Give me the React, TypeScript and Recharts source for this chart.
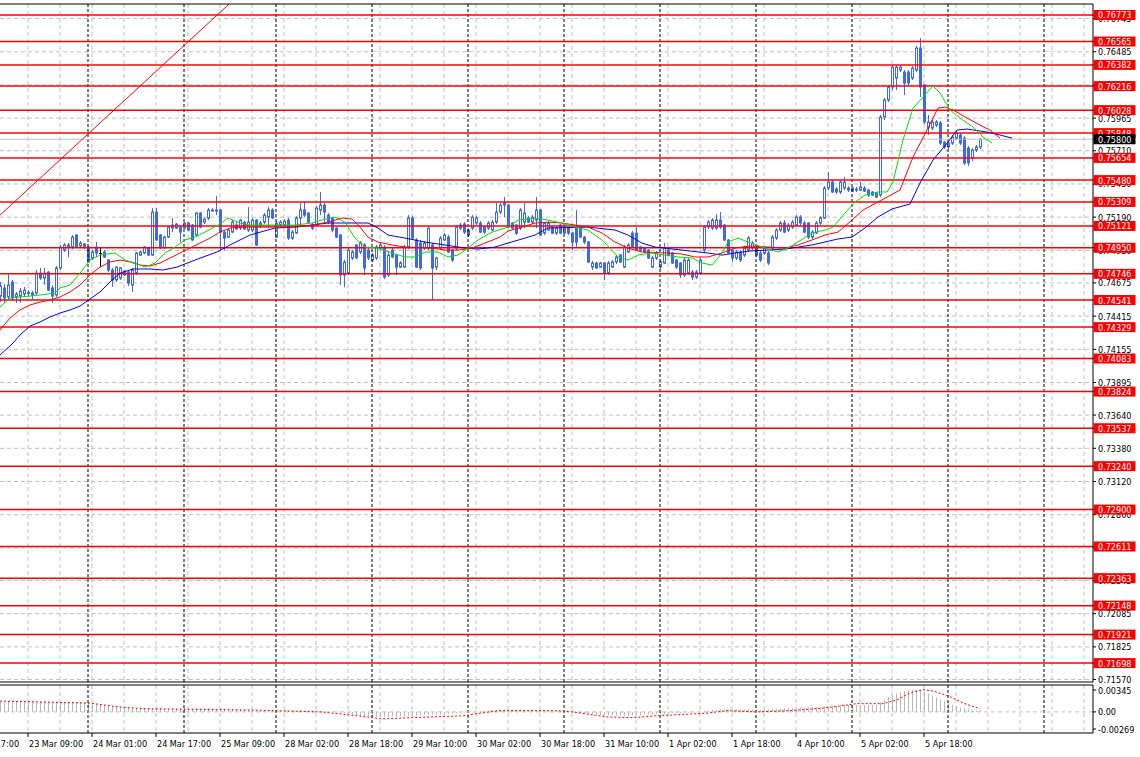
import React from 'react';
import { Bar, CartesianGrid, ComposedChart, Line, ReferenceLine, XAxis, YAxis } from 'recharts';

// hourly bars: [open, high, low, close]
const candles: [number, number, number, number][] = [
  [0.74572, 0.74682, 0.74525, 0.7465], [0.74635, 0.74666, 0.74518, 0.74557], [0.74565, 0.74752, 0.74541, 0.74658], [0.74682, 0.74698, 0.74533, 0.74557],
  [0.74565, 0.74604, 0.74518, 0.74588], [0.74572, 0.74635, 0.74518, 0.74612], [0.74588, 0.74643, 0.74565, 0.74619], [0.74596, 0.74619, 0.74565, 0.746],
  [0.7458, 0.74612, 0.74549, 0.74596], [0.74596, 0.74776, 0.7458, 0.74752], [0.74752, 0.74792, 0.74698, 0.74713], [0.74713, 0.74792, 0.74658, 0.74752],
  [0.7476, 0.74768, 0.74612, 0.74619], [0.74635, 0.74658, 0.74518, 0.74572], [0.7458, 0.74807, 0.74565, 0.74792], [0.74792, 0.74972, 0.74776, 0.74956],
  [0.74932, 0.74987, 0.74917, 0.74972], [0.74956, 0.74987, 0.74878, 0.74972], [0.74956, 0.7505, 0.7494, 0.75034], [0.7505, 0.75058, 0.74948, 0.74956],
  [0.74964, 0.75003, 0.74948, 0.74987], [0.74979, 0.74987, 0.7494, 0.74956], [0.74956, 0.74964, 0.74831, 0.74839], [0.7487, 0.74932, 0.74854, 0.74917],
  [0.74956, 0.74995, 0.74878, 0.74909], [0.74909, 0.74956, 0.74799, 0.74909], [0.74917, 0.74932, 0.7487, 0.74878], [0.74854, 0.74862, 0.7476, 0.74776],
  [0.74776, 0.74792, 0.74643, 0.74698], [0.74698, 0.74807, 0.74682, 0.74799], [0.74713, 0.74799, 0.74698, 0.74792], [0.74768, 0.74776, 0.74729, 0.74737],
  [0.7476, 0.74768, 0.7465, 0.74674], [0.74658, 0.74792, 0.74604, 0.74776], [0.74752, 0.74917, 0.74737, 0.74909], [0.74893, 0.74925, 0.74886, 0.74917],
  [0.74909, 0.74964, 0.74901, 0.74956], [0.74948, 0.74956, 0.74886, 0.74893], [0.74893, 0.75261, 0.74886, 0.7523], [0.7523, 0.75261, 0.75003, 0.75011],
  [0.7505, 0.75058, 0.7494, 0.74948], [0.74948, 0.75042, 0.7494, 0.75034], [0.75034, 0.7512, 0.75026, 0.75112], [0.75104, 0.75183, 0.75073, 0.75128],
  [0.75104, 0.75144, 0.75097, 0.75136], [0.75112, 0.7512, 0.74995, 0.75073], [0.75104, 0.75151, 0.75097, 0.75144], [0.75144, 0.75151, 0.75081, 0.75089],
  [0.75128, 0.75136, 0.75005, 0.75011], [0.7505, 0.7523, 0.75042, 0.75222], [0.75222, 0.7523, 0.75104, 0.75112], [0.75151, 0.75183, 0.75136, 0.75175],
  [0.75183, 0.75261, 0.75167, 0.75246], [0.75246, 0.75261, 0.7523, 0.75238], [0.75238, 0.75355, 0.75206, 0.75246], [0.75246, 0.75253, 0.74932, 0.75073],
  [0.75073, 0.75089, 0.74932, 0.75026], [0.75034, 0.75097, 0.75026, 0.75089], [0.75073, 0.75167, 0.75065, 0.75151], [0.75128, 0.75151, 0.75089, 0.75097],
  [0.75104, 0.75175, 0.75089, 0.75167], [0.75151, 0.75159, 0.75089, 0.75097], [0.75089, 0.75269, 0.75073, 0.75151], [0.75089, 0.75183, 0.75073, 0.75167],
  [0.75167, 0.75175, 0.74964, 0.74972], [0.75128, 0.75159, 0.75104, 0.75144], [0.75151, 0.75222, 0.75136, 0.75206], [0.7519, 0.75269, 0.75104, 0.75246],
  [0.75246, 0.75261, 0.75175, 0.75183], [0.75034, 0.75159, 0.75026, 0.75144], [0.75128, 0.75167, 0.75112, 0.75151], [0.75128, 0.75175, 0.7512, 0.75159],
  [0.75167, 0.75183, 0.75011, 0.75026], [0.75026, 0.75089, 0.75011, 0.75073], [0.75065, 0.75198, 0.75058, 0.75183], [0.75183, 0.753, 0.75112, 0.75246],
  [0.75246, 0.75308, 0.7519, 0.75206], [0.75222, 0.7523, 0.75144, 0.75151], [0.75128, 0.75144, 0.75089, 0.75104], [0.75128, 0.75277, 0.75112, 0.75261],
  [0.75246, 0.75387, 0.75206, 0.75285], [0.75285, 0.753, 0.75151, 0.7523], [0.75206, 0.75222, 0.75136, 0.75151], [0.75183, 0.7519, 0.75073, 0.75089],
  [0.75104, 0.75112, 0.75026, 0.75034], [0.7505, 0.75058, 0.74658, 0.74737], [0.74737, 0.74854, 0.74643, 0.74839], [0.74752, 0.74948, 0.74737, 0.74932],
  [0.7487, 0.74932, 0.74854, 0.74917], [0.74972, 0.74979, 0.74862, 0.7487], [0.74917, 0.75003, 0.74901, 0.74987], [0.74972, 0.74987, 0.74737, 0.74792],
  [0.74932, 0.74948, 0.74854, 0.7487], [0.74854, 0.74909, 0.74839, 0.74893], [0.7487, 0.74972, 0.74854, 0.74956], [0.74948, 0.74987, 0.74932, 0.74972],
  [0.74956, 0.74972, 0.74705, 0.74721], [0.74737, 0.74917, 0.74721, 0.74893], [0.74932, 0.74948, 0.7487, 0.74878], [0.74893, 0.74901, 0.74737, 0.74799],
  [0.74799, 0.74846, 0.74792, 0.74831], [0.74799, 0.74972, 0.74792, 0.74956], [0.74956, 0.75206, 0.7494, 0.75183], [0.75183, 0.75198, 0.75018, 0.75026],
  [0.75011, 0.75026, 0.74792, 0.74799], [0.74987, 0.75011, 0.74776, 0.74792], [0.74948, 0.75003, 0.74932, 0.74987], [0.74948, 0.7512, 0.74932, 0.75104],
  [0.74972, 0.74987, 0.74541, 0.74792], [0.74799, 0.74878, 0.74776, 0.7487], [0.74948, 0.75042, 0.74932, 0.75026], [0.75011, 0.75065, 0.75003, 0.7505],
  [0.75034, 0.7505, 0.74909, 0.74917], [0.74932, 0.7494, 0.74839, 0.74854], [0.74948, 0.75128, 0.74932, 0.75112], [0.75104, 0.75144, 0.75089, 0.75128],
  [0.75136, 0.75151, 0.75058, 0.75073], [0.75089, 0.75104, 0.75034, 0.7505], [0.75104, 0.75206, 0.75089, 0.7519], [0.75144, 0.75198, 0.75128, 0.75183],
  [0.75144, 0.75159, 0.75065, 0.75073], [0.75112, 0.7512, 0.75058, 0.75073], [0.75104, 0.75159, 0.75089, 0.75144], [0.75089, 0.75167, 0.75081, 0.75151],
  [0.75151, 0.753, 0.75136, 0.7523], [0.7523, 0.753, 0.75214, 0.75285], [0.753, 0.75347, 0.7519, 0.75285], [0.75285, 0.75292, 0.75104, 0.75112],
  [0.75144, 0.75151, 0.75097, 0.75104], [0.75128, 0.75136, 0.7505, 0.75065], [0.75104, 0.75261, 0.75089, 0.75246], [0.75151, 0.753, 0.75104, 0.75222],
  [0.75183, 0.75198, 0.75144, 0.75151], [0.75151, 0.75206, 0.75136, 0.7519], [0.75167, 0.75347, 0.75104, 0.75246], [0.75246, 0.75253, 0.75042, 0.7505],
  [0.75065, 0.75151, 0.7505, 0.75144], [0.75089, 0.75159, 0.75081, 0.75144], [0.75112, 0.7512, 0.75058, 0.75065], [0.75065, 0.75112, 0.7505, 0.75104],
  [0.75128, 0.75136, 0.75058, 0.75065], [0.75065, 0.7512, 0.75058, 0.75104], [0.75104, 0.75112, 0.7505, 0.75065], [0.75065, 0.75073, 0.74932, 0.74995],
  [0.75104, 0.75246, 0.74956, 0.74995], [0.75104, 0.75112, 0.75026, 0.75034], [0.75034, 0.75042, 0.74979, 0.74995], [0.74995, 0.75003, 0.74831, 0.74839],
  [0.74799, 0.74846, 0.74776, 0.74831], [0.74831, 0.74839, 0.74784, 0.74792], [0.74799, 0.74839, 0.74792, 0.74831], [0.74831, 0.74839, 0.74698, 0.74752],
  [0.74752, 0.74846, 0.74737, 0.74831], [0.74799, 0.74854, 0.74792, 0.74839], [0.74839, 0.74893, 0.74823, 0.74878], [0.74893, 0.74901, 0.74831, 0.74839],
  [0.74799, 0.74972, 0.74792, 0.74956], [0.74917, 0.74987, 0.74909, 0.74972], [0.75065, 0.75081, 0.74948, 0.74956], [0.75065, 0.75112, 0.74925, 0.74932],
  [0.74956, 0.74964, 0.74917, 0.74932], [0.74948, 0.74956, 0.74909, 0.74917], [0.74932, 0.7494, 0.74862, 0.7487], [0.74799, 0.74886, 0.74792, 0.7487],
  [0.7487, 0.74925, 0.74854, 0.74909], [0.74799, 0.74854, 0.74784, 0.74839], [0.74831, 0.74987, 0.74823, 0.74948], [0.74932, 0.7494, 0.74886, 0.74893],
  [0.74909, 0.74917, 0.74823, 0.74831], [0.74854, 0.74862, 0.74784, 0.74799], [0.74831, 0.74839, 0.74713, 0.74737], [0.74737, 0.7487, 0.74721, 0.74854],
  [0.74752, 0.7487, 0.74737, 0.74854], [0.7476, 0.74776, 0.74698, 0.74721], [0.74721, 0.74776, 0.74705, 0.7476], [0.74752, 0.7487, 0.74737, 0.74854],
  [0.74932, 0.75128, 0.74917, 0.75112], [0.75112, 0.75167, 0.75097, 0.75151], [0.75104, 0.75183, 0.75089, 0.75167], [0.75104, 0.75214, 0.75089, 0.75167],
  [0.75167, 0.7523, 0.75097, 0.75112], [0.75128, 0.75136, 0.75003, 0.75011], [0.75011, 0.75018, 0.74901, 0.74909], [0.74932, 0.7494, 0.74839, 0.7487],
  [0.7487, 0.74932, 0.74854, 0.74917], [0.74917, 0.74932, 0.74839, 0.74854], [0.74893, 0.74964, 0.74878, 0.74948], [0.74932, 0.75042, 0.74917, 0.75026],
  [0.74948, 0.75003, 0.74932, 0.74987], [0.74948, 0.74964, 0.74878, 0.74893], [0.74909, 0.74925, 0.74839, 0.74854], [0.74909, 0.74964, 0.74893, 0.74948],
  [0.74909, 0.74925, 0.74815, 0.74831], [0.74948, 0.7505, 0.74932, 0.75034], [0.75026, 0.75104, 0.75011, 0.75089], [0.75089, 0.75159, 0.75073, 0.75144],
  [0.75144, 0.75167, 0.75065, 0.75073], [0.75089, 0.75144, 0.75073, 0.75128], [0.75112, 0.75167, 0.75097, 0.75151], [0.75128, 0.75206, 0.7512, 0.7519],
  [0.7519, 0.75206, 0.75128, 0.75144], [0.75144, 0.75159, 0.75065, 0.75073], [0.75144, 0.75151, 0.75018, 0.75034], [0.75034, 0.75089, 0.75018, 0.75073],
  [0.75065, 0.75159, 0.75058, 0.75144], [0.75144, 0.75198, 0.75128, 0.75183], [0.75183, 0.75433, 0.75175, 0.75418], [0.75418, 0.75543, 0.75402, 0.75465],
  [0.75465, 0.75481, 0.75379, 0.75387], [0.7541, 0.75426, 0.75371, 0.75387], [0.75387, 0.75481, 0.75371, 0.75465], [0.75418, 0.75504, 0.75402, 0.75465],
  [0.75418, 0.75433, 0.75387, 0.75402], [0.75418, 0.75426, 0.75387, 0.75394], [0.75402, 0.75426, 0.75387, 0.7541], [0.75402, 0.75465, 0.75394, 0.75426],
  [0.75418, 0.75433, 0.75387, 0.75394], [0.75402, 0.7541, 0.75347, 0.75363], [0.75387, 0.75394, 0.75355, 0.75363], [0.75379, 0.75387, 0.7534, 0.75347],
  [0.75363, 0.7599, 0.75347, 0.75974], [0.75974, 0.76123, 0.7595, 0.76107], [0.76107, 0.76224, 0.76091, 0.76209], [0.76209, 0.76381, 0.76185, 0.76365],
  [0.76279, 0.76381, 0.76185, 0.76365], [0.76342, 0.76381, 0.76326, 0.76365], [0.76326, 0.76342, 0.76146, 0.7624], [0.76326, 0.76342, 0.76216, 0.7624],
  [0.76279, 0.76373, 0.76264, 0.76357], [0.76342, 0.7653, 0.76326, 0.76514], [0.76514, 0.76592, 0.7613, 0.76209], [0.76224, 0.76232, 0.75919, 0.75935],
  [0.75888, 0.7599, 0.75833, 0.75935], [0.75888, 0.7595, 0.75872, 0.75935], [0.75911, 0.7595, 0.75896, 0.75935], [0.75927, 0.75943, 0.75755, 0.7577],
  [0.75778, 0.75786, 0.75723, 0.75739], [0.75739, 0.75786, 0.75723, 0.7577], [0.7577, 0.75833, 0.75755, 0.75817], [0.75809, 0.75864, 0.75794, 0.75849],
  [0.75833, 0.75849, 0.75755, 0.7577], [0.75809, 0.75825, 0.75598, 0.75614], [0.75731, 0.75747, 0.7559, 0.75614], [0.75653, 0.75731, 0.75629, 0.75716],
  [0.75716, 0.75755, 0.757, 0.75739], [0.75739, 0.75809, 0.75723, 0.758],
];

// moving averages: [bar index, price]
const greenMa: [number, number][] = [
  [0, 0.74486], [2.5, 0.74557], [10, 0.7458], [13.75, 0.74596], [15, 0.74635], [17.5, 0.74658], [20, 0.74752], [22.5, 0.74854],
  [25, 0.74893], [28.75, 0.74909], [31.25, 0.74854], [33.75, 0.74831], [36.25, 0.74799], [38.75, 0.74831], [41.25, 0.74909], [43.75, 0.74956],
  [46.25, 0.75011], [48.75, 0.75034], [51.25, 0.75073], [55, 0.75136], [57, 0.75183], [60, 0.75144], [62.5, 0.75128], [69.5, 0.75128],
  [73.75, 0.75128], [78, 0.75144], [80.5, 0.75167], [83.75, 0.7519], [86.25, 0.75151], [88.75, 0.75026], [91.25, 0.74956], [94.5, 0.74948],
  [98, 0.74909], [101.25, 0.74878], [103.75, 0.74878], [106.25, 0.74917], [109.5, 0.74917], [112, 0.74878], [114.5, 0.74893], [117, 0.74948],
  [119.5, 0.75011], [123, 0.75073], [127, 0.75112], [129.5, 0.75167], [133.75, 0.75183], [137, 0.75167], [140.5, 0.75144], [143.75, 0.75112],
  [147, 0.75089], [150.5, 0.75011], [153, 0.74932], [154.5, 0.74878], [157, 0.74854], [159.5, 0.74893], [163, 0.74909], [166.25, 0.74893],
  [169.5, 0.74878], [173, 0.7487], [175.5, 0.74831], [178, 0.74815], [180.5, 0.74909], [182, 0.74995], [184.5, 0.75026], [187, 0.74995],
  [191.25, 0.74948], [194.5, 0.74917], [197, 0.74948], [199.5, 0.74995], [203, 0.75066], [206.25, 0.75089], [208.25, 0.75112], [211.25, 0.75222],
  [213.75, 0.75308], [216.25, 0.75363], [219.5, 0.75387], [221.75, 0.75387], [223.25, 0.75465], [225.75, 0.75794], [228.25, 0.76044], [230.75, 0.7613],
  [233.25, 0.76217], [235, 0.76162], [237.5, 0.76029], [240, 0.75966], [243.25, 0.75896], [245.75, 0.75817], [248, 0.7577],
];
const redMa: [number, number][] = [
  [0, 0.74306], [2.5, 0.744], [5, 0.74463], [7.5, 0.74502], [10, 0.74525], [12.5, 0.74541], [15, 0.74565], [17.5, 0.74604],
  [20, 0.74658], [22.5, 0.74737], [25, 0.74799], [27.5, 0.74839], [30, 0.74854], [32.5, 0.74839], [35, 0.74815], [37.5, 0.74807],
  [40, 0.74831], [42.5, 0.7487], [45, 0.74909], [47.5, 0.74948], [50, 0.74987], [52.5, 0.75026], [55, 0.75073], [57.5, 0.75105],
  [60, 0.75112], [73.75, 0.75112], [78, 0.75128], [82, 0.75151], [85.5, 0.75183], [88, 0.75175], [90, 0.75112], [92, 0.75034],
  [94.5, 0.74995], [98, 0.74972], [101.25, 0.74956], [108, 0.74948], [111.25, 0.74932], [114.5, 0.74932], [118, 0.74948], [121.25, 0.74987],
  [125, 0.75034], [127, 0.75081], [130.5, 0.75112], [133.75, 0.75144], [137, 0.75151], [140.5, 0.75144], [143.75, 0.75128], [147, 0.75112],
  [150.5, 0.75066], [153.75, 0.74995], [157, 0.74948], [160.5, 0.74917], [167, 0.74909], [170.5, 0.74901], [173.75, 0.74878], [177, 0.74878],
  [180.5, 0.74909], [183.75, 0.74948], [187.5, 0.74964], [196.25, 0.74948], [199.5, 0.74972], [203, 0.75011], [206.25, 0.7505], [209.5, 0.75073],
  [213, 0.75167], [215.75, 0.75246], [219.5, 0.75308], [221.75, 0.75347], [225, 0.75402], [228.25, 0.75661], [231.75, 0.75872], [234.5, 0.76044],
  [236.25, 0.76052], [238.25, 0.76029], [241.75, 0.75966], [245, 0.75911], [247.5, 0.75872], [250, 0.75809],
];
const blueMa: [number, number][] = [
  [0, 0.7411], [3.25, 0.74204], [5, 0.74267], [7.5, 0.74337], [10, 0.74369], [12.5, 0.74408], [15, 0.74439], [17.5, 0.74463],
  [20, 0.74494], [22.5, 0.74549], [25, 0.74604], [27.5, 0.74682], [30, 0.74752], [33.25, 0.74784], [37.5, 0.74784], [40.75, 0.74776],
  [44.25, 0.74799], [47.5, 0.74839], [50.75, 0.74878], [54.25, 0.74917], [57.5, 0.74972], [60, 0.75011], [62.5, 0.7505], [68.75, 0.75105],
  [73.75, 0.75112], [78, 0.75128], [82, 0.75144], [92, 0.75144], [94.5, 0.75105], [97, 0.7505], [101.25, 0.75026], [106.25, 0.74995],
  [111.25, 0.74972], [116.25, 0.74948], [119.5, 0.7494], [123.75, 0.74956], [127, 0.74987], [130.5, 0.75019], [133.75, 0.7505], [137, 0.75105],
  [147, 0.75112], [153.75, 0.75089], [157, 0.7505], [160.5, 0.74987], [163.75, 0.74956], [170.5, 0.74932], [177, 0.74909], [180.5, 0.74893],
  [183.75, 0.74909], [187.5, 0.74925], [196.25, 0.7494], [203, 0.74972], [209.5, 0.75019], [213, 0.75034], [216.25, 0.75105], [219.5, 0.75191],
  [223, 0.75254], [227.5, 0.75293], [230, 0.75457], [233.25, 0.75637], [237, 0.75778], [239.25, 0.75872], [241.75, 0.7588], [246.75, 0.75856],
  [250, 0.75833], [253, 0.75809],
];

const levels = [
  0.76773, 0.76565, 0.76382, 0.76216, 0.76028, 0.75848, 0.75654, 0.7548, 0.75309, 0.75121, 0.7495, 0.74746,
  0.74541, 0.74329, 0.74083, 0.73824, 0.73537, 0.7324, 0.729, 0.72611, 0.72363, 0.72148, 0.71921, 0.71698,
];
const priceTicks = [
  0.76745, 0.76485, 0.76225, 0.75965, 0.7571, 0.7545, 0.7519, 0.7493, 0.74675, 0.74415, 0.74155,
  0.73895, 0.7364, 0.7338, 0.7312, 0.7286, 0.726, 0.72345, 0.72085, 0.71825, 0.7157,
];
const lastPrice = 0.758;
const trendLine = [{ x: -10, y: 0.74917 }, { x: 70, y: 0.77226 }];

// oscillator histogram, one value per bar
const histogram = [
  0.0016, 0.0015, 0.0016, 0.0015, 0.0016, 0.0015, 0.0015, 0.0016, 0.0016, 0.0015, 0.0016, 0.0016, 0.0015, 0.0015, 0.0016, 0.0015,
  0.0015, 0.0016, 0.0015, 0.0016, 0.0015, 0.0014, 0.0015, 0.0014, 0.0013, 0.0012, 0.0011, 0.001, 0.0009, 0.0008, 0.0007, 0.0006,
  0.0006, 0.0005, 0.0005, 0.0005, 0.0006, 0.0005, 0.0005, 0.0006, 0.0006, 0.0005, 0.0005, 0.0006, 0.0005, 0.0005, 0.0006, 0.0005,
  0.0005, 0.0006, 0.0005, 0.0005, 0.0006, 0.0005, 0.0005, 0.0005, 0.0005, 0.0005, 0.0004, 0.0004, 0.0004, 0.0004, 0.0003, 0.0003,
  0.0003, 0.0003, 0.0003, 0.0002, 0.0003, 0.0002, 0.0002, 0.0002, 0.0002, 0.0002, 0.0002, 0.0002, 0.0001, 0.0002, 0.0001, 0.0001,
  0.0001, 0.0001, 0, 0.0001, 0, -0.0001, -0.0002, -0.0003, -0.0004, -0.0005, -0.0006, -0.0007, -0.0007, -0.0008, -0.0008, -0.0008,
  -0.0008, -0.0008, -0.0007, -0.0008, -0.0007, -0.0007, -0.0006, -0.0006, -0.0006, -0.0005, -0.0005, -0.0005, -0.0004, -0.0004, -0.0004, -0.0003,
  -0.0003, -0.0003, -0.0002, -0.0002, -0.0001, -0.0001, 0, 0.0001, 0.0001, 0.0002, 0.0002, 0.0003, 0.0003, 0.0004, 0.0004, 0.0004,
  0.0004, 0.0004, 0.0004, 0.0004, 0.0003, 0.0004, 0.0003, 0.0003, 0.0003, 0.0002, 0.0002, 0.0001, 0.0001, 0, -0.0001, -0.0001,
  -0.0002, -0.0002, -0.0003, -0.0003, -0.0004, -0.0004, -0.0005, -0.0005, -0.0005, -0.0006, -0.0006, -0.0006, -0.0006, -0.0006, -0.0005, -0.0005,
  -0.0005, -0.0004, -0.0004, -0.0004, -0.0003, -0.0003, -0.0003, -0.0003, -0.0002, -0.0002, -0.0002, -0.0001, -0.0001, -0.0001, 0, 0,
  0.0001, 0.0002, 0.0003, 0.0003, 0.0004, 0.0004, 0.0004, 0.0004, 0.0004, 0.0004, 0.0004, 0.0004, 0.0003, 0.0004, 0.0003, 0.0004,
  0.0004, 0.0005, 0.0005, 0.0005, 0.0006, 0.0006, 0.0006, 0.0006, 0.0007, 0.0007, 0.0007, 0.0008, 0.0008, 0.0008, 0.0009, 0.0009,
  0.001, 0.001, 0.0011, 0.0011, 0.0011, 0.0011, 0.0011, 0.0011, 0.0011, 0.0011, 0.0011, 0.0011, 0.0015, 0.0019, 0.0023, 0.0026,
  0.0029, 0.0031, 0.0033, 0.0034, 0.0035, 0.0035, 0.0034, 0.0032, 0.0029, 0.0026, 0.0023, 0.002, 0.0017, 0.0014, 0.0011, 0.0009,
  0.0007, 0.0006, 0.0004, 0.0003, 0.0002, 0.0002,
];
const signal: [number, number][] = [
  [0, 0.0017], [22.25, 0.0014], [29.5, 0.0008], [35.75, 0.0005], [62.5, 0.0003], [80.25, 0], [89.25, -0.0006], [95.5, -0.0011],
  [107.25, -0.0008], [116, -0.0006], [118.75, -0.0003], [125, 0.0002], [139.25, 0.0002], [143.25, 0], [151.75, -0.0008], [158.25, -0.0009],
  [164.25, -0.0006], [176.75, -0.0002], [181.75, 0.0002], [189.25, 0], [197.5, 0.0002], [205.75, 0.0006], [214.25, 0.0013], [220.75, 0.0013],
  [224.25, 0.0019], [227.5, 0.003], [230.75, 0.0035], [233.25, 0.0033], [237.5, 0.0024], [240.75, 0.0014], [245, 0.0005],
];
const oscTicks = [0.00345, 0, -0.00269];
const oscTickLabels = ['0.00345', '0.00', '-0.00269'];

const timeTicks = [-9, 7, 23, 39, 55, 71, 87, 103, 119, 135, 151, 167, 183, 199, 215, 231];
const timeLabels = [
  '22 Mar 17:00', '23 Mar 09:00', '24 Mar 01:00', '24 Mar 17:00', '25 Mar 09:00', '28 Mar 02:00', '28 Mar 18:00', '29 Mar 10:00',
  '30 Mar 02:00', '30 Mar 18:00', '31 Mar 10:00', '1 Apr 02:00', '1 Apr 18:00', '4 Apr 10:00', '5 Apr 02:00', '5 Apr 18:00',
];
const daySeparators = [22, 46, 69, 93, 117, 141, 165, 189, 213, 237, 261];

const X_DOMAIN: [number, number] = [0, 273.25];
const PRICE_DOMAIN: [number, number] = [0.7155, 0.76859];
const OSC_DOMAIN: [number, number] = [-0.00332, 0.00424];
const gridX = Array.from({ length: 34 }, (_, n) => 7 + 8 * n);

const FONT = "'DejaVu Sans Condensed', 'Liberation Sans', Arial, sans-serif";
const CANDLE = '#4169e1';

const bars = candles.map(([o, h, l, c], i) => ({ i, o, h, l, c, range: [l, h] }));
const toPoints = (pts: [number, number][]) => pts.map(([i, v]) => ({ i, v }));
const oscBars = histogram.map((h, i) => ({ i, h }));

function Candle(props: any) {
  const { x, y, width, height, payload } = props;
  if (!payload || height == null) return null;
  const { o, h, l, c } = payload;
  const cx = Math.round(x + width / 2) + 0.5;
  const ppu = height / (h - l);
  const py = (p: number) => y + (h - p) * ppu;
  if (o === c) {
    const yo = Math.round(py(o)) + 0.5;
    return (
      <g>
        <line x1={cx} x2={cx} y1={y} y2={y + height} stroke="#000" />
        <line x1={cx - 1.5} x2={cx + 1.5} y1={yo} y2={yo} stroke="#000" />
      </g>
    );
  }
  const top = py(Math.max(o, c));
  const bot = py(Math.min(o, c));
  return (
    <g>
      <line x1={cx} x2={cx} y1={y} y2={y + height} stroke={CANDLE} />
      <rect x={cx - 1} y={top} width={2} height={Math.max(bot - top, 1)} fill={c > o ? '#fff' : CANDLE} stroke={CANDLE} />
    </g>
  );
}

function HistBar(props: any) {
  const { x, y, width, height } = props;
  if (height == null) return null;
  const cx = Math.round(x + width / 2) + 0.5;
  return <line x1={cx} x2={cx} y1={y} y2={y + height} stroke="#b8b8b8" />;
}

function PriceTick(props: any) {
  const { x, y, payload } = props;
  const v = payload.value;
  const text = v.toFixed(5);
  const boxed = levels.includes(v) ? '#ff0000' : v === lastPrice ? '#000' : null;
  if (boxed) {
    return (
      <g>
        <rect x={x - 4.5} y={y - 5} width={42} height={10} fill={boxed} />
        <text x={x} y={y} dy={3.5} fill="#fff" fontSize={9} fontFamily={FONT}>{text}</text>
      </g>
    );
  }
  return (
    <text x={x} y={y} dy={3.5} fill="#000" fontSize={9} fontFamily={FONT}>{text}</text>
  );
}

function OscTick(props: any) {
  const { x, y, payload } = props;
  const label = oscTickLabels[oscTicks.indexOf(payload.value)];
  return (
    <text x={x} y={y} dy={3.5} fill="#000" fontSize={9} fontFamily={FONT}>{label}</text>
  );
}

function TimeTick(props: any) {
  const { x, y, payload } = props;
  const label = timeLabels[timeTicks.indexOf(payload.value)];
  return (
    <text x={x + 1} y={y} dy={8} fill="#000" fontSize={9} fontFamily={FONT}>{label}</text>
  );
}

export default function App() {
  return (
    <div style={{ position: 'absolute', left: 0, top: 0, width: 1140, height: 757, background: '#fff' }}>
      <ComposedChart width={1140} height={684} data={bars} margin={{ top: 4, right: 0, bottom: 2, left: 0 }}>
        <CartesianGrid horizontalValues={priceTicks} verticalValues={gridX} stroke="#c0c0c0" strokeDasharray="4 3" />
        <XAxis dataKey="i" type="number" domain={X_DOMAIN} allowDataOverflow hide />
        <YAxis
          orientation="right"
          type="number"
          width={47}
          domain={PRICE_DOMAIN}
          allowDataOverflow
          ticks={[...priceTicks, ...levels, lastPrice]}
          interval={0}
          tick={<PriceTick />}
          tickSize={3}
          tickMargin={2}
          stroke="#000"
        />
        {daySeparators.map((d) => (
          <ReferenceLine key={`sep${d}`} x={d} stroke="#000" strokeDasharray="3 2" />
        ))}
        <ReferenceLine y={lastPrice} stroke="#c0c0c0" />
        {levels.map((lv) => (
          <ReferenceLine key={`lv${lv}`} y={lv} stroke="#ff0000" strokeWidth={1.5} />
        ))}
        <ReferenceLine segment={trendLine} stroke="#ff0000" ifOverflow="hidden" />
        <ReferenceLine y={PRICE_DOMAIN[1]} stroke="#000" />
        <ReferenceLine y={PRICE_DOMAIN[0]} stroke="#000" />
        <Bar dataKey="range" barSize={3} shape={<Candle />} isAnimationActive={false} />
        <Line data={toPoints(blueMa)} dataKey="v" stroke="#0000ff" dot={false} activeDot={false} isAnimationActive={false} />
        <Line data={toPoints(redMa)} dataKey="v" stroke="#ff0000" dot={false} activeDot={false} isAnimationActive={false} />
        <Line data={toPoints(greenMa)} dataKey="v" stroke="#00e000" dot={false} activeDot={false} isAnimationActive={false} />
      </ComposedChart>
      <div style={{ position: 'absolute', left: 0, top: 683 }}>
        <ComposedChart width={1140} height={74} data={oscBars} margin={{ top: 2, right: 0, bottom: 0, left: 0 }}>
          <CartesianGrid horizontal={false} verticalValues={gridX} stroke="#c0c0c0" strokeDasharray="4 3" />
          <XAxis
            dataKey="i"
            type="number"
            domain={X_DOMAIN}
            allowDataOverflow
            ticks={timeTicks}
            interval={0}
            tick={<TimeTick />}
            tickSize={4}
            height={24}
            stroke="#000"
          />
          <YAxis
            orientation="right"
            type="number"
            width={47}
            domain={OSC_DOMAIN}
            allowDataOverflow
            ticks={oscTicks}
            interval={0}
            tick={<OscTick />}
            tickSize={3}
            tickMargin={2}
            stroke="#000"
          />
          {daySeparators.map((d) => (
            <ReferenceLine key={`osep${d}`} x={d} stroke="#000" strokeDasharray="3 2" />
          ))}
          <ReferenceLine y={0} stroke="#c0c0c0" strokeDasharray="4 3" />
          <ReferenceLine y={OSC_DOMAIN[1]} stroke="#000" />
          <Bar dataKey="h" barSize={1} shape={<HistBar />} isAnimationActive={false} />
          <Line data={toPoints(signal)} dataKey="v" stroke="#ff0000" strokeDasharray="2 2" dot={false} activeDot={false} isAnimationActive={false} />
        </ComposedChart>
      </div>
    </div>
  );
}
